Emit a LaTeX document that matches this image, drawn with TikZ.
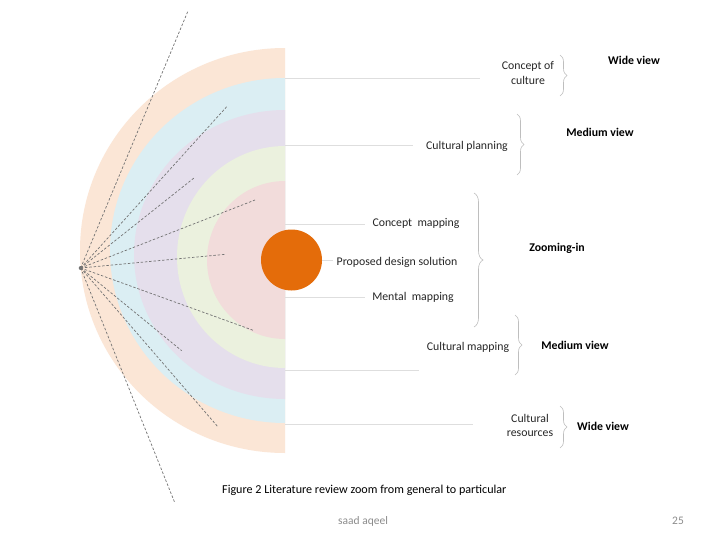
\documentclass[tikz,border=0pt]{standalone}
\usepackage{fontspec}
\setmainfont{Carlito}
\usetikzlibrary{decorations.pathreplacing}
\definecolor{ringpeach}{RGB}{251,230,214}
\definecolor{ringblue}{RGB}{219,238,243}
\definecolor{ringpurple}{RGB}{229,223,236}
\definecolor{ringgreen}{RGB}{235,241,222}
\definecolor{ringpink}{RGB}{242,220,219}
\definecolor{coreorange}{RGB}{228,108,10}
\definecolor{raygray}{RGB}{115,115,115}
\definecolor{guidegray}{RGB}{222,222,222}
\definecolor{bracegray}{RGB}{190,190,190}
\definecolor{footgray}{RGB}{140,140,140}
\begin{document}
\begin{tikzpicture}[x=1pt,y=-1pt,
  ray/.style={draw=raygray, line width=0.7pt, dash pattern=on 2.5pt off 1.8pt},
  guide/.style={draw=guidegray, line width=0.6pt},
  brc/.style={draw=bracegray, line width=0.6pt, decorate, decoration={brace, amplitude=#1}},
  lbl/.style={inner sep=0pt, font=\fontsize{11.8}{14.5}\selectfont, align=center, text=black!85},
  hdr/.style={inner sep=0pt, font=\fontsize{11.8}{14}\selectfont\bfseries, text=black}]
\useasboundingbox (0,0) rectangle (728,546);
\fill[white] (0,0) rectangle (728,546);
% half rings
\begin{scope}
\clip (0,0) rectangle (285,546);
\fill[ringpeach] (285,250.5) ellipse[x radius=205pt, y radius=202.5pt];
\fill[ringblue] (285,250.5) ellipse[x radius=175pt, y radius=172.5pt];
\fill[ringpurple] (285,254.5) ellipse[x radius=151pt, y radius=144.5pt];
\fill[ringgreen] (285,257) ellipse[x radius=108pt, y radius=111pt];
\fill[ringpink] (285,260) ellipse[x radius=78pt, y radius=79pt];
\end{scope}
% rays
\coordinate (o) at (80.7,268);
\coordinate (r1) at (187.7,11.7);
\coordinate (r2) at (226.7,106.7);
\coordinate (r3) at (194,178);
\coordinate (r4) at (255,200);
\coordinate (r5) at (225.7,254.3);
\coordinate (r6) at (254.3,330.7);
\coordinate (r7) at (181.7,350.7);
\coordinate (r8) at (218.3,427.3);
\coordinate (r9) at (175,503.3);
\foreach \r in {r1,r2,r3,r4,r5,r6,r7,r8,r9} \draw[ray] (o) -- (\r);
\fill[raygray] (o) circle[radius=2pt];
% core
\node[circle, fill=coreorange, minimum size=61pt, inner sep=0pt] (core) at (291.5,260) {};
% guide lines
\coordinate (g1s) at (285,78);  \coordinate (g1e) at (480,78);
\coordinate (g2s) at (285,145); \coordinate (g2e) at (413,145);
\coordinate (g3s) at (285,224); \coordinate (g3e) at (365,224);
\coordinate (g4e) at (333,260);
\coordinate (g5s) at (285,297); \coordinate (g5e) at (365,297);
\coordinate (g6s) at (285,370.5); \coordinate (g6e) at (419,370.5);
\coordinate (g7s) at (285,424.5); \coordinate (g7e) at (473,424.5);
\draw[guide] (g1s) -- (g1e);
\draw[guide] (g2s) -- (g2e);
\draw[guide] (g3s) -- (g3e);
\draw[guide] (core.east) -- (g4e);
\draw[guide] (g5s) -- (g5e);
\draw[guide] (g6s) -- (g6e);
\draw[guide] (g7s) -- (g7e);
% labels
\node[lbl] (cc) at (528,73) {Concept of\\culture};
\node[lbl] (cp) at (467,146) {Cultural planning};
\node[lbl] (cm) at (416,223) {Concept\ \ mapping};
\node[lbl] (pd) at (397,262) {Proposed design solution};
\node[lbl] (mm) at (413,297) {Mental\ \ mapping};
\node[lbl] (cmap) at (468,347) {Cultural mapping};
\node[lbl] (cr) at (530,425.5) {Cultural\\resources};
% braces
\draw[brc=7pt] (560,55) -- (560,96);
\draw[brc=7pt] (517,114) -- (517,175);
\draw[brc=9pt] (474,193) -- (474,327);
\draw[brc=7pt] (515,315) -- (515,375);
\draw[brc=7pt] (560,406) -- (560,448);
% headers
\node[hdr] (h1) at (634,60) {Wide view};
\node[hdr] (h2) at (600,132) {Medium view};
\node[hdr] (h3) at (557,248) {Zooming-in};
\node[hdr] (h4) at (575,345) {Medium view};
\node[hdr] (h5) at (603,426) {Wide view};
% caption and footer
\node[inner sep=0pt, anchor=west, font=\fontsize{12.1}{14}\selectfont] (cap) at (222,490) {Figure 2 Literature review zoom from general to particular};
\node[inner sep=0pt, font=\fontsize{11.5}{13}\selectfont, text=footgray] (auth) at (363,521) {saad aqeel};
\node[inner sep=0pt, font=\fontsize{11.5}{13}\selectfont, text=footgray] (pg) at (678,521) {25};
\end{tikzpicture}
\end{document}
